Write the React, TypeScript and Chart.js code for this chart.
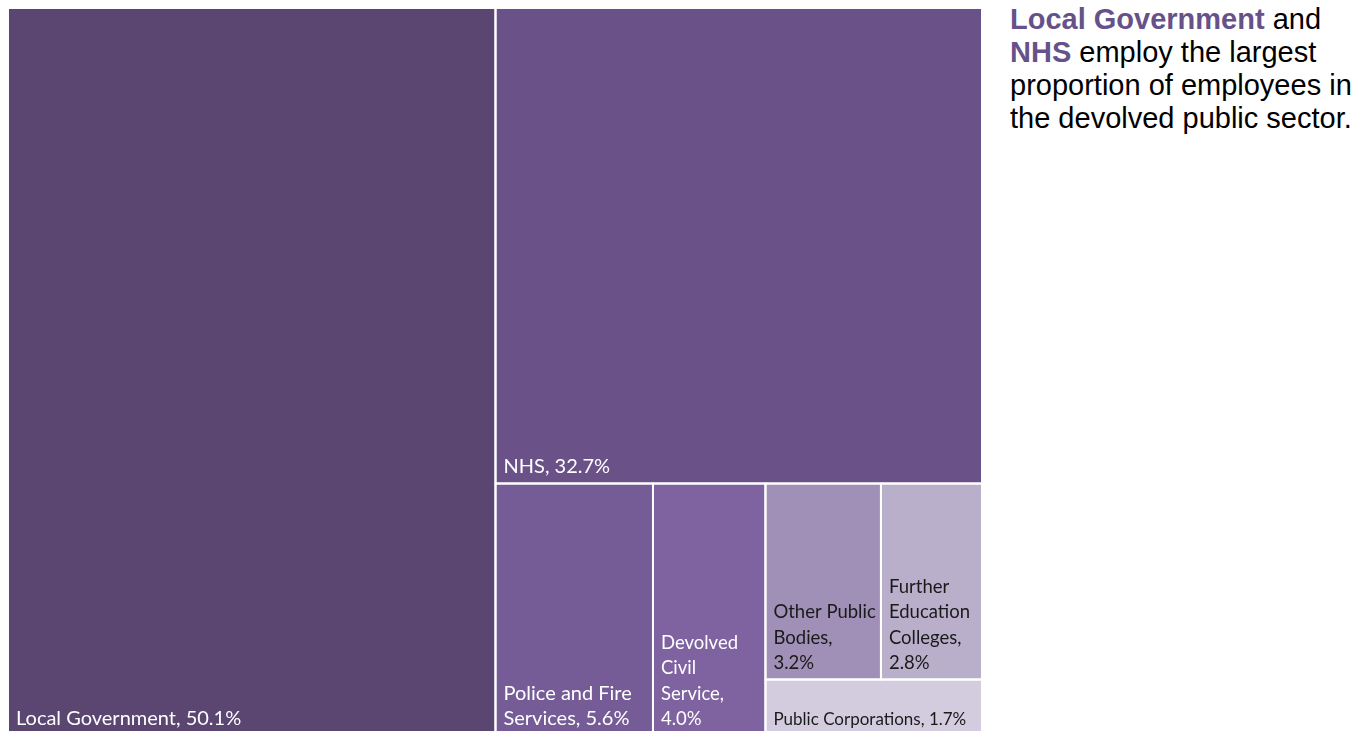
import React, { useEffect, useRef } from "react";
import { Chart, registerables } from "chart.js";

Chart.register(...registerables);

// ---- Data ----
const categories = [
  "Local Government",
  "NHS",
  "Police and Fire Services",
  "Devolved Civil Service",
  "Other Public Bodies",
  "Further Education Colleges",
  "Public Corporations",
];
const shares = [50.1, 32.7, 5.6, 4.0, 3.2, 2.8, 1.7];

// Cell label text as wrapped in the picture ({v} = the share of that cell)
const cellLabels = [
  "Local Government, {v}",
  "NHS, {v}",
  "Police and Fire\nServices, {v}",
  "Devolved\nCivil\nService,\n{v}",
  "Other Public\nBodies,\n{v}",
  "Further\nEducation\nColleges,\n{v}",
  "Public Corporations, {v}",
];

// ---- Styles ----
const fillColors = ["#5b4571", "#6a5288", "#755c96", "#7f62a0", "#a08fb6", "#b9afcb", "#d3ccdf"];
const textColors = ["#ffffff", "#ffffff", "#ffffff", "#ffffff", "#1a1a1a", "#1a1a1a", "#1a1a1a"];

// Treemap nesting (indices into the data arrays); 'h' = split along x, 'v' = split along y
type Node = number | [string, ...Node[]];
const treeLayout: Node = ["h", 0, ["v", 1, ["h", 2, 3, ["v", ["h", 4, 5], 6]]]];

type Rect = { x0: number; x1: number; y0: number; y1: number };

function nodeSum(n: Node): number {
  if (typeof n === "number") return shares[n];
  return (n.slice(1) as Node[]).reduce((s, c) => s + nodeSum(c), 0);
}

function layout(n: Node, r: Rect, out: Rect[]) {
  if (typeof n === "number") {
    out[n] = r;
    return;
  }
  const dir = n[0];
  const kids = n.slice(1) as Node[];
  const total = nodeSum(n);
  let pos = dir === "h" ? r.x0 : r.y0;
  const span = dir === "h" ? r.x1 - r.x0 : r.y1 - r.y0;
  kids.forEach((k) => {
    const len = (nodeSum(k) / total) * span;
    const sub: Rect =
      dir === "h"
        ? { x0: pos, x1: pos + len, y0: r.y0, y1: r.y1 }
        : { x0: r.x0, x1: r.x1, y0: pos, y1: pos + len };
    layout(k, sub, out);
    pos += len;
  });
}

const rects: Rect[] = [];
layout(treeLayout, { x0: 0, x1: 100, y0: 0, y1: 100 }, rects);

const FONT = "Lato, 'Open Sans', sans-serif";

const labelPlugin = {
  id: "treemapLabels",
  afterDatasetsDraw(chart: any) {
    const { ctx } = chart;
    const xs = chart.scales.x;
    const ys = chart.scales.y;
    ctx.save();
    rects.forEach((r, i) => {
      const left = xs.getPixelForValue(r.x0);
      const right = xs.getPixelForValue(r.x1);
      const top = ys.getPixelForValue(r.y0);
      const bottom = ys.getPixelForValue(r.y1);
      const h = bottom - top;
      const w = right - left;
      const size = h < 70 ? 17 : w < 130 ? 18.5 : 20;
      const lh = 25.5;
      ctx.font = `${size}px ${FONT}`;
      ctx.fillStyle = textColors[i];
      ctx.textAlign = "left";
      ctx.textBaseline = "alphabetic";
      const lines = cellLabels[i].replace("{v}", `${shares[i].toFixed(1)}%`).split("\n");
      const base = bottom - 10;
      lines.forEach((ln, j) => {
        ctx.fillText(ln, left + 8, base - (lines.length - 1 - j) * lh);
      });
    });
    ctx.restore();
  },
};

export default function App() {
  const canvasRef = useRef<HTMLCanvasElement | null>(null);

  useEffect(() => {
    if (!canvasRef.current) return;
    const datasets = rects.map((r, i) => ({
      label: categories[i],
      data: [
        { x: r.x0, y: r.y0 },
        { x: r.x1, y: r.y0 },
        { x: r.x1, y: r.y1 },
        { x: r.x0, y: r.y1 },
        { x: r.x0, y: r.y0 },
      ],
      backgroundColor: fillColors[i],
      borderColor: "#ffffff",
      borderWidth: 2,
      fill: "shape",
      pointRadius: 0,
      tension: 0,
    }));
    const chart = new Chart(canvasRef.current, {
      type: "line",
      data: { datasets } as any,
      options: {
        animation: false,
        responsive: true,
        maintainAspectRatio: false,
        events: [],
        layout: { padding: 0 },
        scales: {
          x: { type: "linear", min: 0, max: 100, display: false },
          y: { type: "linear", min: 0, max: 100, reverse: true, display: false },
        },
        plugins: {
          legend: { display: false },
          tooltip: { enabled: false },
          filler: { drawTime: "beforeDatasetsDraw" },
        },
        elements: { line: { borderJoinStyle: "miter" } },
      } as any,
      plugins: [labelPlugin],
    });
    return () => chart.destroy();
  }, []);

  return (
    <div style={{ position: "fixed", left: 0, top: 0, width: 1370, height: 731, overflow: "hidden", background: "#fff" }}>
      <div style={{ position: "absolute", left: 8, top: 8, width: 974, height: 727 }}>
        <canvas ref={canvasRef} />
      </div>
      <div
        style={{
          position: "absolute",
          left: 1010,
          top: 3,
          font: "29px/33px 'Liberation Sans', Arial, sans-serif",
          color: "#000",
          whiteSpace: "nowrap",
        }}
      >
        <b style={{ color: "#67518a" }}>Local Government</b> and
        <br />
        <b style={{ color: "#67518a" }}>NHS</b> employ the largest
        <br />
        proportion of employees in
        <br />
        the devolved public sector.
      </div>
    </div>
  );
}
